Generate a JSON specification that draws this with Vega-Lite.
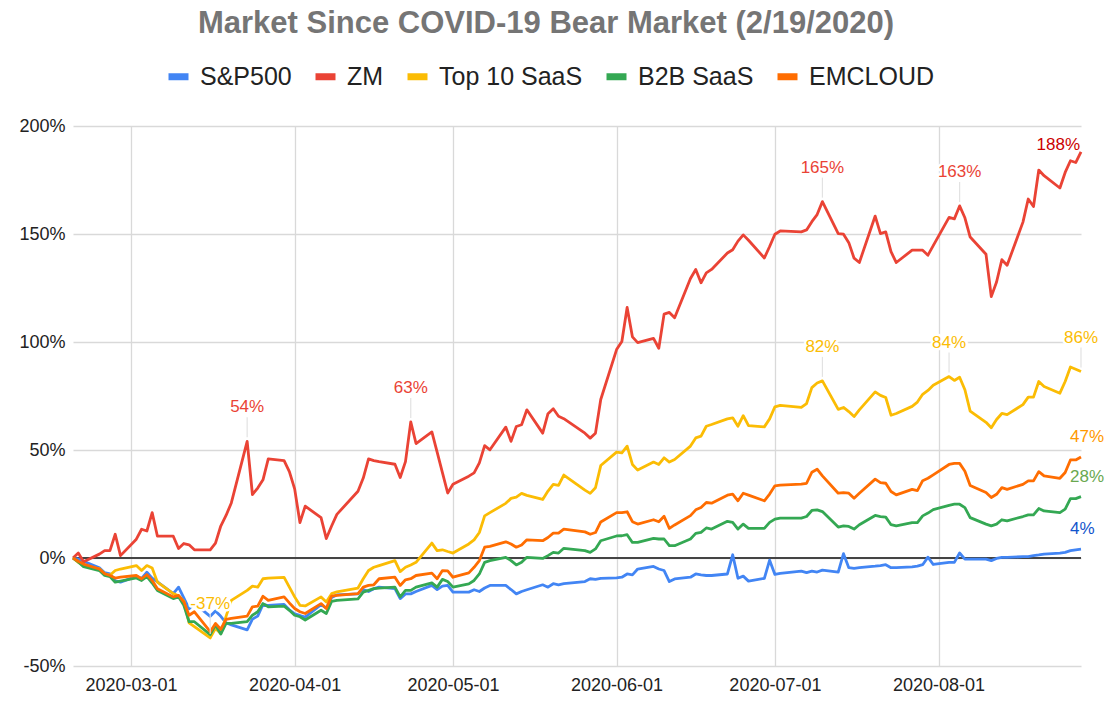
{
  "$schema": "https://vega.github.io/schema/vega-lite/v6.json",
  "width": 1008,
  "height": 540,
  "autosize": {"type": "none"},
  "padding": {"left": 73, "top": 126, "right": 33, "bottom": 38},
  "background": "white",
  "config": {
    "font": "Arial",
    "view": {"stroke": null},
    "axis": {"domain": false, "ticks": false, "title": null, "gridColor": "#d9d9d9", "gridWidth": 1.3, "labelFontSize": 18, "labelColor": "#222222"}
  },
  "title": {
    "text": "Market Since COVID-19 Bear Market (2/19/2020)",
    "fontSize": 31,
    "fontWeight": "bold",
    "color": "#757575",
    "anchor": "middle",
    "frame": "group",
    "dx": -31,
    "offset": 23
  },
  "datasets": {
    "prices": [
      {"date": "2020-02-19", "S&P500": 0, "ZM": 0, "Top 10 SaaS": 0, "B2B SaaS": 0, "EMCLOUD": 0},
      {"date": "2020-02-20", "S&P500": -0.5, "ZM": 2.3, "Top 10 SaaS": -2, "B2B SaaS": -1.8, "EMCLOUD": -1.5},
      {"date": "2020-02-21", "S&P500": -1.5, "ZM": -1.7, "Top 10 SaaS": -3.5, "B2B SaaS": -4, "EMCLOUD": -2.8},
      {"date": "2020-02-24", "S&P500": -4.5, "ZM": 1.8, "Top 10 SaaS": -5, "B2B SaaS": -5.8, "EMCLOUD": -5.1},
      {"date": "2020-02-25", "S&P500": -6.8, "ZM": 3.4, "Top 10 SaaS": -7.3, "B2B SaaS": -8.1, "EMCLOUD": -7.3},
      {"date": "2020-02-26", "S&P500": -7.3, "ZM": 3.4, "Top 10 SaaS": -8, "B2B SaaS": -8.6, "EMCLOUD": -8.1},
      {"date": "2020-02-27", "S&P500": -10.6, "ZM": 11, "Top 10 SaaS": -5.8, "B2B SaaS": -11.2, "EMCLOUD": -9.3},
      {"date": "2020-02-28", "S&P500": -11.2, "ZM": 1.1, "Top 10 SaaS": -5.1, "B2B SaaS": -10.7, "EMCLOUD": -8.9},
      {"date": "2020-03-02", "S&P500": -8.5, "ZM": 8.7, "Top 10 SaaS": -3.5, "B2B SaaS": -9.2, "EMCLOUD": -8.1},
      {"date": "2020-03-03", "S&P500": -9.5, "ZM": 13.3, "Top 10 SaaS": -5.8, "B2B SaaS": -10.4, "EMCLOUD": -9.6},
      {"date": "2020-03-04", "S&P500": -6.6, "ZM": 12.5, "Top 10 SaaS": -3.5, "B2B SaaS": -8.6, "EMCLOUD": -7.7},
      {"date": "2020-03-05", "S&P500": -9.3, "ZM": 21, "Top 10 SaaS": -4.6, "B2B SaaS": -11.6, "EMCLOUD": -10.4},
      {"date": "2020-03-06", "S&P500": -11, "ZM": 10.1, "Top 10 SaaS": -11.2, "B2B SaaS": -15, "EMCLOUD": -14.2},
      {"date": "2020-03-09", "S&P500": -16.5, "ZM": 10.1, "Top 10 SaaS": -16.5, "B2B SaaS": -18.8, "EMCLOUD": -18},
      {"date": "2020-03-10", "S&P500": -13.5, "ZM": 4.4, "Top 10 SaaS": -17.5, "B2B SaaS": -18, "EMCLOUD": -17.3},
      {"date": "2020-03-11", "S&P500": -18.5, "ZM": 6.7, "Top 10 SaaS": -20, "B2B SaaS": -21.9, "EMCLOUD": -20.3},
      {"date": "2020-03-12", "S&P500": -23.5, "ZM": 6.1, "Top 10 SaaS": -30, "B2B SaaS": -29.5, "EMCLOUD": -26.5},
      {"date": "2020-03-13", "S&P500": -21, "ZM": 3.8, "Top 10 SaaS": -31.8, "B2B SaaS": -29.5, "EMCLOUD": -24.9},
      {"date": "2020-03-16", "S&P500": -27, "ZM": 3.8, "Top 10 SaaS": -37, "B2B SaaS": -35.5, "EMCLOUD": -34.1},
      {"date": "2020-03-17", "S&P500": -24.5, "ZM": 6.9, "Top 10 SaaS": -32.6, "B2B SaaS": -31, "EMCLOUD": -30.3},
      {"date": "2020-03-18", "S&P500": -27, "ZM": 14.8, "Top 10 SaaS": -35, "B2B SaaS": -35.2, "EMCLOUD": -33},
      {"date": "2020-03-19", "S&P500": -30, "ZM": 19.7, "Top 10 SaaS": -27, "B2B SaaS": -30.3, "EMCLOUD": -28.4},
      {"date": "2020-03-20", "S&P500": -31, "ZM": 25.5, "Top 10 SaaS": -19.6, "B2B SaaS": -30.3, "EMCLOUD": -28},
      {"date": "2020-03-23", "S&P500": -33.3, "ZM": 54, "Top 10 SaaS": -15, "B2B SaaS": -29.5, "EMCLOUD": -26.9},
      {"date": "2020-03-24", "S&P500": -28.3, "ZM": 29.4, "Top 10 SaaS": -13, "B2B SaaS": -26.5, "EMCLOUD": -22.6},
      {"date": "2020-03-25", "S&P500": -26.9, "ZM": 32.4, "Top 10 SaaS": -13.5, "B2B SaaS": -24.9, "EMCLOUD": -22.3},
      {"date": "2020-03-26", "S&P500": -21.5, "ZM": 36.2, "Top 10 SaaS": -9.6, "B2B SaaS": -21.1, "EMCLOUD": -17.7},
      {"date": "2020-03-27", "S&P500": -22, "ZM": 45.9, "Top 10 SaaS": -9.3, "B2B SaaS": -22.6, "EMCLOUD": -19.6},
      {"date": "2020-03-30", "S&P500": -21.5, "ZM": 45.1, "Top 10 SaaS": -9, "B2B SaaS": -22.3, "EMCLOUD": -18},
      {"date": "2020-03-31", "S&P500": -24, "ZM": 40, "Top 10 SaaS": -13.5, "B2B SaaS": -24.2, "EMCLOUD": -20.8},
      {"date": "2020-04-01", "S&P500": -25.9, "ZM": 32, "Top 10 SaaS": -18, "B2B SaaS": -26.5, "EMCLOUD": -23.4},
      {"date": "2020-04-02", "S&P500": -26.6, "ZM": 16.4, "Top 10 SaaS": -21.9, "B2B SaaS": -27.2, "EMCLOUD": -24.9},
      {"date": "2020-04-03", "S&P500": -27.4, "ZM": 24, "Top 10 SaaS": -22.2, "B2B SaaS": -28.7, "EMCLOUD": -25.7},
      {"date": "2020-04-06", "S&P500": -21.6, "ZM": 18.7, "Top 10 SaaS": -18, "B2B SaaS": -24.2, "EMCLOUD": -21.1},
      {"date": "2020-04-07", "S&P500": -23.2, "ZM": 9, "Top 10 SaaS": -20.4, "B2B SaaS": -25.7, "EMCLOUD": -23.4},
      {"date": "2020-04-08", "S&P500": -18.3, "ZM": 14.8, "Top 10 SaaS": -16.5, "B2B SaaS": -20.1, "EMCLOUD": -17.6},
      {"date": "2020-04-09", "S&P500": -17.1, "ZM": 20.2, "Top 10 SaaS": -15.7, "B2B SaaS": -19.6, "EMCLOUD": -17.3},
      {"date": "2020-04-13", "S&P500": -16.6, "ZM": 30.9, "Top 10 SaaS": -13.9, "B2B SaaS": -18.9, "EMCLOUD": -16.5},
      {"date": "2020-04-14", "S&P500": -14.6, "ZM": 37, "Top 10 SaaS": -9.6, "B2B SaaS": -15.8, "EMCLOUD": -13.5},
      {"date": "2020-04-15", "S&P500": -15.5, "ZM": 45.9, "Top 10 SaaS": -5.8, "B2B SaaS": -15, "EMCLOUD": -12.7},
      {"date": "2020-04-16", "S&P500": -14.2, "ZM": 45.1, "Top 10 SaaS": -4.3, "B2B SaaS": -14.2, "EMCLOUD": -12.4},
      {"date": "2020-04-17", "S&P500": -13.5, "ZM": 44.6, "Top 10 SaaS": -3.5, "B2B SaaS": -13.9, "EMCLOUD": -9.6},
      {"date": "2020-04-20", "S&P500": -14.2, "ZM": 43.4, "Top 10 SaaS": -1.2, "B2B SaaS": -13.5, "EMCLOUD": -8.9},
      {"date": "2020-04-21", "S&P500": -18.8, "ZM": 37.3, "Top 10 SaaS": -6.3, "B2B SaaS": -18, "EMCLOUD": -12.7},
      {"date": "2020-04-22", "S&P500": -16.6, "ZM": 44.6, "Top 10 SaaS": -4.3, "B2B SaaS": -15, "EMCLOUD": -10.1},
      {"date": "2020-04-23", "S&P500": -16.6, "ZM": 63, "Top 10 SaaS": -3.2, "B2B SaaS": -15, "EMCLOUD": -9.6},
      {"date": "2020-04-24", "S&P500": -15.5, "ZM": 53, "Top 10 SaaS": -2, "B2B SaaS": -13.5, "EMCLOUD": -8.1},
      {"date": "2020-04-27", "S&P500": -12.7, "ZM": 58.4, "Top 10 SaaS": 6.9, "B2B SaaS": -11.5, "EMCLOUD": -7},
      {"date": "2020-04-28", "S&P500": -14.6, "ZM": 49, "Top 10 SaaS": 3.4, "B2B SaaS": -13.5, "EMCLOUD": -9.6},
      {"date": "2020-04-29", "S&P500": -13, "ZM": 39.5, "Top 10 SaaS": 3.8, "B2B SaaS": -9.9, "EMCLOUD": -5.8},
      {"date": "2020-04-30", "S&P500": -12.7, "ZM": 30.1, "Top 10 SaaS": 3, "B2B SaaS": -10.9, "EMCLOUD": -6},
      {"date": "2020-05-01", "S&P500": -15.8, "ZM": 34.1, "Top 10 SaaS": 2.3, "B2B SaaS": -13.5, "EMCLOUD": -8.9},
      {"date": "2020-05-04", "S&P500": -15.8, "ZM": 37.9, "Top 10 SaaS": 6.5, "B2B SaaS": -12, "EMCLOUD": -6.9},
      {"date": "2020-05-05", "S&P500": -14.7, "ZM": 39.4, "Top 10 SaaS": 8.4, "B2B SaaS": -10.4, "EMCLOUD": -4.3},
      {"date": "2020-05-06", "S&P500": -15.5, "ZM": 44, "Top 10 SaaS": 11.8, "B2B SaaS": -7.4, "EMCLOUD": -1.2},
      {"date": "2020-05-07", "S&P500": -13.9, "ZM": 52, "Top 10 SaaS": 19.5, "B2B SaaS": -2, "EMCLOUD": 5},
      {"date": "2020-05-08", "S&P500": -12.7, "ZM": 50.1, "Top 10 SaaS": 21, "B2B SaaS": -1.2, "EMCLOUD": 5.4},
      {"date": "2020-05-11", "S&P500": -12.7, "ZM": 60.6, "Top 10 SaaS": 25.3, "B2B SaaS": 0.3, "EMCLOUD": 7.5},
      {"date": "2020-05-12", "S&P500": -14.6, "ZM": 54, "Top 10 SaaS": 27.6, "B2B SaaS": -1.2, "EMCLOUD": 6.5},
      {"date": "2020-05-13", "S&P500": -16.6, "ZM": 60.9, "Top 10 SaaS": 28.2, "B2B SaaS": -3.2, "EMCLOUD": 5},
      {"date": "2020-05-14", "S&P500": -15.5, "ZM": 61.7, "Top 10 SaaS": 29.9, "B2B SaaS": -2, "EMCLOUD": 6},
      {"date": "2020-05-15", "S&P500": -14.7, "ZM": 68.6, "Top 10 SaaS": 29, "B2B SaaS": 0.3, "EMCLOUD": 8.4},
      {"date": "2020-05-18", "S&P500": -12.4, "ZM": 57.8, "Top 10 SaaS": 27.1, "B2B SaaS": -0.2, "EMCLOUD": 8},
      {"date": "2020-05-19", "S&P500": -13.5, "ZM": 66.8, "Top 10 SaaS": 31, "B2B SaaS": 1.1, "EMCLOUD": 9.5},
      {"date": "2020-05-20", "S&P500": -11.9, "ZM": 69.1, "Top 10 SaaS": 34.1, "B2B SaaS": 2.6, "EMCLOUD": 11.5},
      {"date": "2020-05-21", "S&P500": -12.4, "ZM": 65.6, "Top 10 SaaS": 33.6, "B2B SaaS": 2.3, "EMCLOUD": 11.5},
      {"date": "2020-05-22", "S&P500": -11.9, "ZM": 64.5, "Top 10 SaaS": 38.4, "B2B SaaS": 4.5, "EMCLOUD": 13.4},
      {"date": "2020-05-26", "S&P500": -10.9, "ZM": 57.8, "Top 10 SaaS": 31.4, "B2B SaaS": 3.4, "EMCLOUD": 12.1},
      {"date": "2020-05-27", "S&P500": -9.6, "ZM": 55.5, "Top 10 SaaS": 29.9, "B2B SaaS": 2.6, "EMCLOUD": 11},
      {"date": "2020-05-28", "S&P500": -9.9, "ZM": 57.8, "Top 10 SaaS": 32.5, "B2B SaaS": 4.2, "EMCLOUD": 11.8},
      {"date": "2020-05-29", "S&P500": -9.4, "ZM": 73.4, "Top 10 SaaS": 42.8, "B2B SaaS": 8, "EMCLOUD": 16.7},
      {"date": "2020-06-01", "S&P500": -9.2, "ZM": 96.5, "Top 10 SaaS": 49, "B2B SaaS": 10.2, "EMCLOUD": 21},
      {"date": "2020-06-02", "S&P500": -8.9, "ZM": 100.2, "Top 10 SaaS": 48.7, "B2B SaaS": 10.3, "EMCLOUD": 21},
      {"date": "2020-06-03", "S&P500": -7.4, "ZM": 116, "Top 10 SaaS": 51.8, "B2B SaaS": 10.8, "EMCLOUD": 21.4},
      {"date": "2020-06-04", "S&P500": -7.8, "ZM": 102.4, "Top 10 SaaS": 43.3, "B2B SaaS": 7.2, "EMCLOUD": 16.8},
      {"date": "2020-06-05", "S&P500": -5.1, "ZM": 99.7, "Top 10 SaaS": 40.7, "B2B SaaS": 7.2, "EMCLOUD": 15.7},
      {"date": "2020-06-08", "S&P500": -3.9, "ZM": 101.7, "Top 10 SaaS": 44.4, "B2B SaaS": 9.1, "EMCLOUD": 17.7},
      {"date": "2020-06-09", "S&P500": -5.1, "ZM": 97.1, "Top 10 SaaS": 43.3, "B2B SaaS": 8.8, "EMCLOUD": 16.8},
      {"date": "2020-06-10", "S&P500": -5.8, "ZM": 112.9, "Top 10 SaaS": 46.4, "B2B SaaS": 8.8, "EMCLOUD": 19.3},
      {"date": "2020-06-11", "S&P500": -10.9, "ZM": 113.7, "Top 10 SaaS": 44.4, "B2B SaaS": 5.7, "EMCLOUD": 13.7},
      {"date": "2020-06-12", "S&P500": -9.7, "ZM": 111.2, "Top 10 SaaS": 45.6, "B2B SaaS": 5.7, "EMCLOUD": 15.3},
      {"date": "2020-06-15", "S&P500": -8.9, "ZM": 129.4, "Top 10 SaaS": 51.8, "B2B SaaS": 8.8, "EMCLOUD": 19.6},
      {"date": "2020-06-16", "S&P500": -7.4, "ZM": 133.6, "Top 10 SaaS": 55.6, "B2B SaaS": 11.4, "EMCLOUD": 22.3},
      {"date": "2020-06-17", "S&P500": -7.8, "ZM": 127.4, "Top 10 SaaS": 56.4, "B2B SaaS": 11.9, "EMCLOUD": 23.4},
      {"date": "2020-06-18", "S&P500": -8.1, "ZM": 132, "Top 10 SaaS": 61, "B2B SaaS": 13.9, "EMCLOUD": 25.7},
      {"date": "2020-06-19", "S&P500": -8.1, "ZM": 133.6, "Top 10 SaaS": 61.8, "B2B SaaS": 13.4, "EMCLOUD": 25.4},
      {"date": "2020-06-22", "S&P500": -7.4, "ZM": 141.2, "Top 10 SaaS": 64.4, "B2B SaaS": 17, "EMCLOUD": 29.1},
      {"date": "2020-06-23", "S&P500": 1.5, "ZM": 142.7, "Top 10 SaaS": 64.9, "B2B SaaS": 16.5, "EMCLOUD": 29.6},
      {"date": "2020-06-24", "S&P500": -9.4, "ZM": 146.7, "Top 10 SaaS": 61, "B2B SaaS": 13.4, "EMCLOUD": 26.5},
      {"date": "2020-06-25", "S&P500": -8.4, "ZM": 149.6, "Top 10 SaaS": 65.9, "B2B SaaS": 15.7, "EMCLOUD": 30},
      {"date": "2020-06-26", "S&P500": -10.7, "ZM": 147.1, "Top 10 SaaS": 61.3, "B2B SaaS": 13.7, "EMCLOUD": 29.1},
      {"date": "2020-06-29", "S&P500": -9.4, "ZM": 138.9, "Top 10 SaaS": 60.7, "B2B SaaS": 13.7, "EMCLOUD": 26.5},
      {"date": "2020-06-30", "S&P500": -1, "ZM": 144.2, "Top 10 SaaS": 64.4, "B2B SaaS": 16.5, "EMCLOUD": 29.6},
      {"date": "2020-07-01", "S&P500": -7.6, "ZM": 149.9, "Top 10 SaaS": 70, "B2B SaaS": 18, "EMCLOUD": 33.4},
      {"date": "2020-07-02", "S&P500": -7.1, "ZM": 151.4, "Top 10 SaaS": 70.7, "B2B SaaS": 18.5, "EMCLOUD": 33.7},
      {"date": "2020-07-06", "S&P500": -6.1, "ZM": 151, "Top 10 SaaS": 69.7, "B2B SaaS": 18.5, "EMCLOUD": 34.2},
      {"date": "2020-07-07", "S&P500": -6.8, "ZM": 151.9, "Top 10 SaaS": 71.5, "B2B SaaS": 19.2, "EMCLOUD": 34.6},
      {"date": "2020-07-08", "S&P500": -6.1, "ZM": 155.7, "Top 10 SaaS": 78.9, "B2B SaaS": 22, "EMCLOUD": 39.7},
      {"date": "2020-07-09", "S&P500": -6.5, "ZM": 159, "Top 10 SaaS": 81, "B2B SaaS": 22.3, "EMCLOUD": 41.1},
      {"date": "2020-07-10", "S&P500": -5.6, "ZM": 165, "Top 10 SaaS": 82, "B2B SaaS": 21.5, "EMCLOUD": 38},
      {"date": "2020-07-13", "S&P500": -6.5, "ZM": 150.2, "Top 10 SaaS": 68.8, "B2B SaaS": 14.3, "EMCLOUD": 30},
      {"date": "2020-07-14", "S&P500": 2, "ZM": 149.9, "Top 10 SaaS": 69.7, "B2B SaaS": 14.9, "EMCLOUD": 30.3},
      {"date": "2020-07-15", "S&P500": -4.5, "ZM": 146, "Top 10 SaaS": 67.8, "B2B SaaS": 14.6, "EMCLOUD": 30},
      {"date": "2020-07-16", "S&P500": -4.8, "ZM": 138.8, "Top 10 SaaS": 65.5, "B2B SaaS": 13.4, "EMCLOUD": 27.7},
      {"date": "2020-07-17", "S&P500": -4.5, "ZM": 136.8, "Top 10 SaaS": 68.6, "B2B SaaS": 15.4, "EMCLOUD": 30},
      {"date": "2020-07-20", "S&P500": -3.8, "ZM": 158.3, "Top 10 SaaS": 76.9, "B2B SaaS": 19.7, "EMCLOUD": 36.5},
      {"date": "2020-07-21", "S&P500": -3.5, "ZM": 150.2, "Top 10 SaaS": 75.3, "B2B SaaS": 19.2, "EMCLOUD": 34.9},
      {"date": "2020-07-22", "S&P500": -3.1, "ZM": 151, "Top 10 SaaS": 74.3, "B2B SaaS": 18.9, "EMCLOUD": 34.6},
      {"date": "2020-07-23", "S&P500": -4.5, "ZM": 141.8, "Top 10 SaaS": 66.1, "B2B SaaS": 15.4, "EMCLOUD": 30.8},
      {"date": "2020-07-24", "S&P500": -4.5, "ZM": 136.8, "Top 10 SaaS": 66.9, "B2B SaaS": 14.9, "EMCLOUD": 29.2},
      {"date": "2020-07-27", "S&P500": -4.1, "ZM": 142.5, "Top 10 SaaS": 70.2, "B2B SaaS": 16.4, "EMCLOUD": 31.8},
      {"date": "2020-07-28", "S&P500": -3.8, "ZM": 142.5, "Top 10 SaaS": 72.2, "B2B SaaS": 16.4, "EMCLOUD": 31.2},
      {"date": "2020-07-29", "S&P500": -3.1, "ZM": 142.5, "Top 10 SaaS": 75.8, "B2B SaaS": 19.5, "EMCLOUD": 35.8},
      {"date": "2020-07-30", "S&P500": 0.4, "ZM": 140.2, "Top 10 SaaS": 77.6, "B2B SaaS": 20.8, "EMCLOUD": 36.9},
      {"date": "2020-07-31", "S&P500": -3, "ZM": 144.6, "Top 10 SaaS": 80, "B2B SaaS": 22.4, "EMCLOUD": 38.5},
      {"date": "2020-08-03", "S&P500": -2, "ZM": 157.7, "Top 10 SaaS": 84, "B2B SaaS": 24.4, "EMCLOUD": 43.3},
      {"date": "2020-08-04", "S&P500": -2, "ZM": 157, "Top 10 SaaS": 82.2, "B2B SaaS": 24.9, "EMCLOUD": 43.8},
      {"date": "2020-08-05", "S&P500": 2.3, "ZM": 163, "Top 10 SaaS": 83.7, "B2B SaaS": 24.9, "EMCLOUD": 43.8},
      {"date": "2020-08-06", "S&P500": -0.5, "ZM": 157.5, "Top 10 SaaS": 77.9, "B2B SaaS": 23.3, "EMCLOUD": 40.2},
      {"date": "2020-08-07", "S&P500": -0.5, "ZM": 148.6, "Top 10 SaaS": 68, "B2B SaaS": 18.7, "EMCLOUD": 33.6},
      {"date": "2020-08-10", "S&P500": -0.5, "ZM": 140.6, "Top 10 SaaS": 62.8, "B2B SaaS": 15.7, "EMCLOUD": 30.3},
      {"date": "2020-08-11", "S&P500": -1.2, "ZM": 121, "Top 10 SaaS": 60.3, "B2B SaaS": 14.9, "EMCLOUD": 28},
      {"date": "2020-08-12", "S&P500": -0.2, "ZM": 127.8, "Top 10 SaaS": 64.1, "B2B SaaS": 15.7, "EMCLOUD": 29.5},
      {"date": "2020-08-13", "S&P500": 0.3, "ZM": 138.1, "Top 10 SaaS": 66.9, "B2B SaaS": 17.7, "EMCLOUD": 32.6},
      {"date": "2020-08-14", "S&P500": 0.3, "ZM": 135.5, "Top 10 SaaS": 66.4, "B2B SaaS": 17.2, "EMCLOUD": 31.8},
      {"date": "2020-08-17", "S&P500": 0.6, "ZM": 155.5, "Top 10 SaaS": 71, "B2B SaaS": 19.2, "EMCLOUD": 34.1},
      {"date": "2020-08-18", "S&P500": 0.6, "ZM": 166.2, "Top 10 SaaS": 74.5, "B2B SaaS": 20, "EMCLOUD": 35.7},
      {"date": "2020-08-19", "S&P500": 1.1, "ZM": 162.7, "Top 10 SaaS": 74.5, "B2B SaaS": 20, "EMCLOUD": 35.7},
      {"date": "2020-08-20", "S&P500": 1.4, "ZM": 179.6, "Top 10 SaaS": 81.7, "B2B SaaS": 22.9, "EMCLOUD": 40},
      {"date": "2020-08-21", "S&P500": 1.8, "ZM": 177, "Top 10 SaaS": 79.4, "B2B SaaS": 21.8, "EMCLOUD": 38},
      {"date": "2020-08-24", "S&P500": 2.3, "ZM": 171.3, "Top 10 SaaS": 76.3, "B2B SaaS": 21, "EMCLOUD": 36.9},
      {"date": "2020-08-25", "S&P500": 2.6, "ZM": 178.5, "Top 10 SaaS": 81.7, "B2B SaaS": 22.6, "EMCLOUD": 39.6},
      {"date": "2020-08-26", "S&P500": 3.4, "ZM": 183.9, "Top 10 SaaS": 88.4, "B2B SaaS": 27.5, "EMCLOUD": 45.4},
      {"date": "2020-08-27", "S&P500": 3.8, "ZM": 183.1, "Top 10 SaaS": 87.4, "B2B SaaS": 27.5, "EMCLOUD": 45.4},
      {"date": "2020-08-28", "S&P500": 4.1, "ZM": 188, "Top 10 SaaS": 86.3, "B2B SaaS": 28.4, "EMCLOUD": 46.8}
    ],
    "peaks": [
      {"date": "2020-03-23", "v": 54, "t": "54%", "s": "ZM"},
      {"date": "2020-04-23", "v": 63, "t": "63%", "s": "ZM"},
      {"date": "2020-07-10", "v": 165, "t": "165%", "s": "ZM"},
      {"date": "2020-08-05", "v": 163, "t": "163%", "s": "ZM"},
      {"date": "2020-03-16", "v": -37, "t": "-37%", "s": "Top 10 SaaS"},
      {"date": "2020-07-10", "v": 82, "t": "82%", "s": "Top 10 SaaS"},
      {"date": "2020-08-03", "v": 84, "t": "84%", "s": "Top 10 SaaS"},
      {"date": "2020-08-28", "v": 86.3, "t": "86%", "s": "Top 10 SaaS"}
    ],
    "ends": [
      {"date": "2020-08-28", "v": 188, "t": "188%", "s": "ZM"},
      {"date": "2020-08-28", "v": 46.8, "t": "47%", "s": "EMCLOUD"},
      {"date": "2020-08-28", "v": 28.4, "t": "28%", "s": "B2B SaaS"},
      {"date": "2020-08-28", "v": 4.1, "t": "4%", "s": "S&P500"}
    ]
  },
  "encoding": {
    "x": {
      "field": "date",
      "type": "temporal",
      "scale": {
        "type": "utc",
        "domain": [
          {"year": 2020, "month": 2, "date": 19, "utc": true},
          {"year": 2020, "month": 8, "date": 28, "utc": true}
        ]
      },
      "axis": {
        "values": [
          {"year": 2020, "month": 3, "date": 1, "utc": true},
          {"year": 2020, "month": 4, "date": 1, "utc": true},
          {"year": 2020, "month": 5, "date": 1, "utc": true},
          {"year": 2020, "month": 6, "date": 1, "utc": true},
          {"year": 2020, "month": 7, "date": 1, "utc": true},
          {"year": 2020, "month": 8, "date": 1, "utc": true}
        ],
        "format": "%Y-%m-%d",
        "grid": true,
        "labelAngle": 0,
        "labelPadding": 10
      }
    }
  },
  "layer": [
    {
      "data": {"values": [{"z": 0}]},
      "mark": {"type": "rule", "color": "#444444", "strokeWidth": 2},
      "encoding": {
        "x": null,
        "y": {"field": "z", "type": "quantitative"}
      }
    },
    {
      "data": {"name": "prices"},
      "transform": [
        {"fold": ["S&P500", "ZM", "Top 10 SaaS", "B2B SaaS", "EMCLOUD"], "as": ["series", "pct"]}
      ],
      "mark": {"type": "line", "strokeWidth": 2.8, "strokeJoin": "round"},
      "encoding": {
        "y": {
          "field": "pct",
          "type": "quantitative",
          "scale": {"domain": [-50, 200], "nice": false, "zero": false},
          "axis": {
            "values": [-50, 0, 50, 100, 150, 200],
            "labelExpr": "datum.value + '%'",
            "grid": true,
            "labelPadding": 8
          }
        },
        "color": {
          "field": "series",
          "type": "nominal",
          "sort": ["S&P500", "ZM", "Top 10 SaaS", "B2B SaaS", "EMCLOUD"],
          "scale": {
            "domain": ["S&P500", "ZM", "Top 10 SaaS", "B2B SaaS", "EMCLOUD"],
            "range": ["#4285f4", "#ea4335", "#fbbc04", "#34a853", "#ff6d01"]
          },
          "legend": {
            "orient": "none",
            "legendX": 92,
            "legendY": -63,
            "direction": "horizontal",
            "title": null,
            "symbolType": "stroke",
            "symbolStrokeWidth": 7,
            "symbolSize": 400,
            "labelFontSize": 25,
            "labelColor": "#222222",
            "labelOffset": 8,
            "columnPadding": 9
          }
        }
      }
    },
    {
      "data": {"name": "peaks"},
      "mark": {"type": "rule", "color": "#e2e2e2", "strokeWidth": 1.2, "yOffset": -4, "y2Offset": -24},
      "encoding": {
        "y": {"field": "v", "type": "quantitative"},
        "y2": {"field": "v"}
      }
    },
    {
      "data": {"name": "peaks"},
      "mark": {"type": "text", "fontSize": 17, "dy": -34, "fill": "white", "stroke": "white", "strokeWidth": 5, "strokeJoin": "round"},
      "encoding": {
        "y": {"field": "v", "type": "quantitative"},
        "text": {"field": "t"}
      }
    },
    {
      "data": {"name": "peaks"},
      "mark": {"type": "text", "fontSize": 17, "dy": -34},
      "encoding": {
        "y": {"field": "v", "type": "quantitative"},
        "text": {"field": "t"},
        "color": {"condition": {"test": "datum.s === 'ZM'", "value": "#ea4335"}, "value": "#fbbc04"}
      }
    },
    {
      "data": {"name": "ends"},
      "transform": [{"filter": "datum.s === 'ZM'"}],
      "mark": {"type": "text", "fontSize": 17, "align": "right", "dx": -1, "dy": -7, "color": "#cc0000"},
      "encoding": {
        "y": {"field": "v", "type": "quantitative"},
        "text": {"field": "t"}
      }
    },
    {
      "data": {"name": "ends"},
      "transform": [{"filter": "datum.s !== 'ZM'"}],
      "mark": {"type": "text", "fontSize": 17, "align": "left", "dx": -11, "dy": -20},
      "encoding": {
        "y": {"field": "v", "type": "quantitative"},
        "text": {"field": "t"},
        "color": {
          "condition": [
            {"test": "datum.s === 'EMCLOUD'", "value": "#ff9900"},
            {"test": "datum.s === 'B2B SaaS'", "value": "#6aa84f"}
          ],
          "value": "#1155cc"
        }
      }
    }
  ]
}
